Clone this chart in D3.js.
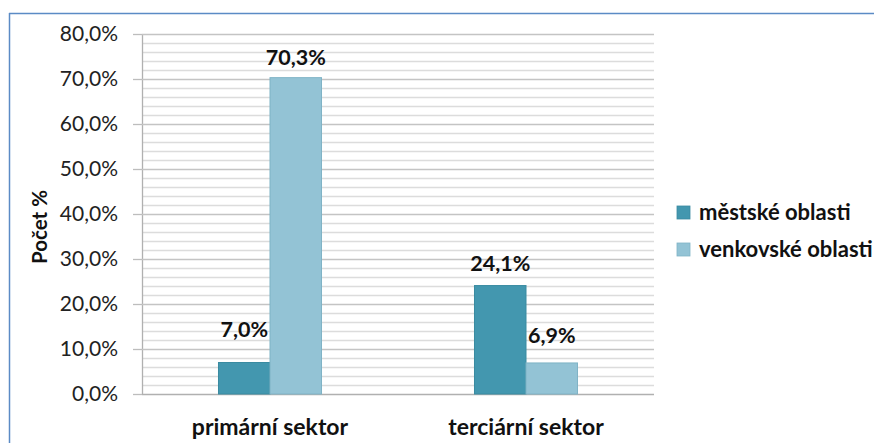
<!DOCTYPE html>
<html><head><meta charset="utf-8">
<script src="https://cdn.jsdelivr.net/npm/d3@7"></script>
<style>
html,body{margin:0;padding:0;background:#fff;}
svg{display:block;font-family:Lato,"Open Sans",sans-serif;}
</style></head>
<body>
<svg id="chart" width="874" height="443"></svg>
<script>
const categories = ["primární sektor", "terciární sektor"];
const seriesNames = ["městské oblasti", "venkovské oblasti"];
const mestske = [7.0, 24.1];
const venkovske = [70.3, 6.9];
const yTicks = [0, 10, 20, 30, 40, 50, 60, 70, 80];
const yLabel = "Počet %";
const colors = ["#4397AF", "#93C3D5"];
const strokeColors = ["#3A8BA1", "#7FB3C6"];
// label vertical gap above bar top (baseline), per series per category
const labelGap = [[26, 15], [13, 20]];

const svg = d3.select("#chart");
const W = 874, H = 443;

svg.append("line").attr("x1", 9.5).attr("x2", 9.5).attr("y1", 13).attr("y2", H).attr("stroke", "#5B8BC5").attr("stroke-width", 1.5);
svg.append("line").attr("x1", 9).attr("x2", W).attr("y1", 13.5).attr("y2", 13.5).attr("stroke", "#5B8BC5").attr("stroke-width", 1.5);

const plot = {left: 142, right: 654, top: 34, bottom: 394};
const y = d3.scaleLinear().domain([0, 80]).range([plot.bottom, plot.top]);
const x0 = d3.scaleBand().domain(categories).range([plot.left, plot.right]).paddingInner(0).paddingOuter(0);
const x1 = d3.scaleBand().domain(seriesNames).range([0, x0.bandwidth()]).paddingInner(0).paddingOuter(1.485);

const minor = d3.range(0, 81, 2).filter(v => v % 10 !== 0);
svg.append("g").selectAll("line").data(minor).join("line")
  .attr("x1", plot.left).attr("x2", plot.right)
  .attr("y1", d => Math.round(y(d)) + 0.5).attr("y2", d => Math.round(y(d)) + 0.5)
  .attr("stroke", "#dcdcdc").attr("stroke-width", 1.3);

const yAxis = d3.axisLeft(y).tickValues(yTicks)
  .tickFormat(d => d3.format(".1f")(d).replace(".", ",") + "%")
  .tickSize(9).tickPadding(15);
const gy = svg.append("g").attr("transform", `translate(${plot.left},0)`).call(yAxis);
gy.select(".domain").attr("stroke", "#b0b0b0").attr("stroke-width", 1.3).attr("d", `M0.5,${plot.top}V${plot.bottom}`);
gy.selectAll(".tick line").attr("stroke", "#bdbdbd").attr("stroke-width", 1.3);
gy.selectAll(".tick").append("line")
  .attr("x1", 0).attr("x2", plot.right - plot.left)
  .attr("stroke", d => d === 0 ? "#b0b0b0" : "#c4c4c4").attr("stroke-width", 1.3);
gy.selectAll(".tick text").attr("font-size", 21).attr("fill", "#222").attr("font-family", "Lato,sans-serif");

const data = categories.map((c, i) => ({cat: c, vals: [mestske[i], venkovske[i]]}));
const groups = svg.append("g").selectAll("g").data(data).join("g")
  .attr("transform", d => `translate(${x0(d.cat)},0)`);
groups.selectAll("rect").data((d, ci) => d.vals.map((v, si) => ({v, si, ci})))
  .join("rect")
  .attr("x", d => x1(seriesNames[d.si]))
  .attr("width", x1.bandwidth())
  .attr("y", d => y(d.v))
  .attr("height", d => y(0) - y(d.v))
  .attr("fill", d => colors[d.si])
  .attr("stroke", d => strokeColors[d.si]).attr("stroke-width", 1);

groups.selectAll("text").data((d, ci) => d.vals.map((v, si) => ({v, si, ci})))
  .join("text")
  .attr("x", d => x1(seriesNames[d.si]) + x1.bandwidth() / 2)
  .attr("y", d => y(d.v) - labelGap[d.si][d.ci])
  .attr("text-anchor", "middle")
  .attr("font-size", 21.5).attr("font-weight", "bold").attr("fill", "#111")
  .text(d => d3.format(".1f")(d.v).replace(".", ",") + "%");

svg.append("g").selectAll("text").data(categories).join("text")
  .attr("x", d => x0(d) + x0.bandwidth() / 2)
  .attr("y", 435)
  .attr("text-anchor", "middle")
  .attr("font-size", 23).attr("font-weight", "bold").attr("fill", "#111")
  .text(d => d);

svg.append("text")
  .attr("transform", "translate(47,227) rotate(-90)")
  .attr("text-anchor", "middle")
  .attr("font-size", 20.5).attr("font-weight", "bold").attr("fill", "#111")
  .text(yLabel);

const lg = svg.append("g").attr("transform", "translate(677,0)");
const rows = lg.selectAll("g").data(seriesNames).join("g")
  .attr("transform", (d, i) => `translate(0,${206 + i * 37})`);
rows.append("rect").attr("width", 13).attr("height", 13)
  .attr("fill", (d, i) => colors[i]).attr("stroke", (d, i) => strokeColors[i]).attr("stroke-width", 0.8);
rows.append("text").attr("x", 22).attr("y", 14)
  .attr("font-size", 22).attr("font-weight", "bold").attr("fill", "#111")
  .text(d => d);
</script>
</body></html>
